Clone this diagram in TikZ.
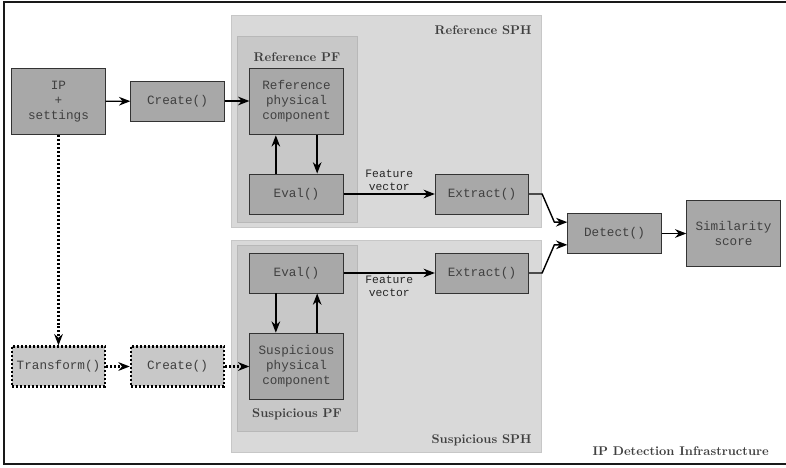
\documentclass[tikz,border=0pt]{standalone}
\usepackage{fontspec}
\setmonofont{Liberation Mono}
\usetikzlibrary{arrows.meta}

\definecolor{boxgray}{HTML}{A8A8A8}
\definecolor{pfgray}{HTML}{C8C8C8}
\definecolor{sphgray}{HTML}{D9D9D9}
\definecolor{inkgray}{HTML}{404040}

\begin{document}
\begin{tikzpicture}[
    >={Stealth[length=3.4mm,width=2.6mm]},
    block/.style={
        draw=black!80,
        line width=0.8pt,
        fill=boxgray,
        text=inkgray,
        minimum width=2.8cm,
        minimum height=1.2cm,
        align=center,
        font=\fontsize{10.8}{12.7}\selectfont\ttfamily
    },
    tallblock/.style={
        block,
        minimum height=2cm
    },
    ghost/.style={
        block,
        draw=black,
        fill=pfgray,
        line width=1.9pt,
        dash pattern=on 1.7pt off 1.7pt
    },
    title/.style={
        text=inkgray,
        font=\fontsize{10.8}{12}\selectfont\bfseries
    },
    flow/.style={->, line width=1.2pt},
    dotflow/.style={->, line width=1.9pt, dash pattern=on 1.7pt off 1.7pt},
    vlabel/.style={
        align=center,
        inner sep=1pt,
        text=black!85,
        font=\fontsize{9.7}{11}\selectfont\ttfamily
    }
]

\useasboundingbox (0,0) rectangle (23.58,-14.04);

%%%%%%%%%%%%%%%%%%%%%%%%
% Frame and panels
%%%%%%%%%%%%%%%%%%%%%%%%

\draw[line width=1.6pt, black!90] (23.8,-0.07) -- (0.11,-0.07) -- (0.11,-13.93) -- (23.8,-13.93);
\node[title, anchor=south east] (infra) at (23.19,-13.8) {IP Detection Infrastructure};

% --- Reference SPH ---
\draw[fill=sphgray, draw=black!22] (6.93,-0.45) rectangle (16.23,-6.82);
\draw[fill=pfgray, draw=black!28] (7.11,-1.08) rectangle (10.71,-6.66);
\node[title, anchor=east] (refsphlbl) at (16.07,-0.9) {Reference SPH};
\node[title] (refpflbl) at (8.91,-1.72) {Reference PF};

% --- Suspicious SPH ---
\draw[fill=sphgray, draw=black!22] (6.93,-7.2) rectangle (16.23,-13.57);
\draw[fill=pfgray, draw=black!28] (7.11,-7.35) rectangle (10.71,-12.93);
\node[title, anchor=east] (sussphlbl) at (16.07,-13.2) {Suspicious SPH};
\node[title] (suspflbl) at (8.91,-12.42) {Suspicious PF};

%%%%%%%%%%%%%%%%%%%%%%%%
% Blocks
%%%%%%%%%%%%%%%%%%%%%%%%

\node[tallblock] (ip) at (1.755,-3.045) {IP\\+\\settings};
\node[block] (refcreate) at (5.325,-3.03) {Create()};
\node[tallblock] (refcomp) at (8.895,-3.045) {Reference\\physical\\component};
\node[block] (refeval) at (8.895,-5.82) {Eval()};
\node[block] (refextract) at (14.46,-5.82) {Extract()};

\node[block] (detect) at (18.435,-7.005) {Detect()};
\node[tallblock] (score) at (22.005,-7.005) {Similarity\\score};

\node[block] (suseval) at (8.895,-8.19) {Eval()};
\node[block] (susextract) at (14.46,-8.19) {Extract()};
\node[tallblock] (suscomp) at (8.895,-10.995) {Suspicious\\physical\\component};
\node[ghost] (transform) at (1.755,-10.995) {Transform()};
\node[ghost] (suscreate) at (5.325,-10.995) {Create()};

%%%%%%%%%%%%%%%%%%%%%%%%
% Connectors
%%%%%%%%%%%%%%%%%%%%%%%%

% --- Reference side ---
\draw[flow] (ip) -- (refcreate);
\draw[flow] (refcreate) -- (refcreate -| refcomp.west);
\draw[flow] ([xshift=-0.62cm]refeval.north) -- ([xshift=-0.62cm]refcomp.south);
\draw[flow] ([xshift=0.62cm]refcomp.south) -- ([xshift=0.62cm]refeval.north);
\draw[flow] (refeval) -- node[vlabel, midway, above=1pt] {Feature\\vector} (refextract);
\draw[flow] (refextract.east) -- ++(0.39,0)
    -- ([xshift=-0.39cm,yshift=0.34cm]detect.west)
    -- ([yshift=0.34cm]detect.west);

% --- Suspicious side ---
\draw[dotflow] (ip) -- (transform);
\draw[dotflow] (transform) -- (suscreate);
\draw[dotflow] (suscreate) -- (suscomp);
\draw[flow] ([xshift=-0.62cm]suseval.south) -- ([xshift=-0.62cm]suscomp.north);
\draw[flow] ([xshift=0.62cm]suscomp.north) -- ([xshift=0.62cm]suseval.south);
\draw[flow] (suseval) -- node[vlabel, midway, below=1pt] {Feature\\vector} (susextract);
\draw[flow] (susextract.east) -- ++(0.39,0)
    -- ([xshift=-0.39cm,yshift=-0.34cm]detect.west)
    -- ([yshift=-0.34cm]detect.west);

% --- Result ---
\draw[flow] (detect) -- (score);

\end{tikzpicture}
\end{document}
